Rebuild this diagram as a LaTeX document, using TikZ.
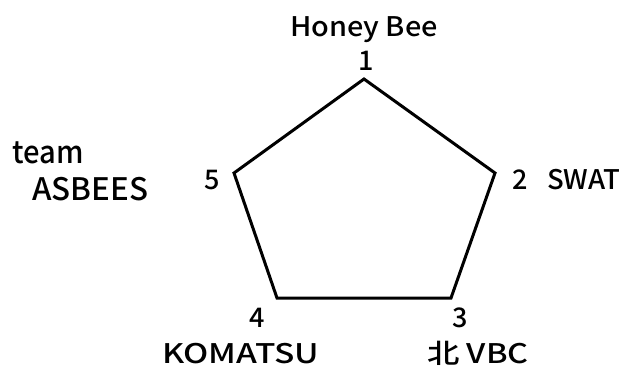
\documentclass[tikz,border=0pt]{standalone}
\usepackage{fontspec}
\usepackage{graphicx}
\setmainfont{Noto Sans CJK JP}[BoldFont={Noto Sans CJK JP Medium}]
\newcommand{\sx}[2]{\scalebox{#1}[1]{#2}}
\begin{document}
\begin{tikzpicture}[x=1pt,y=-1pt,
  lbl/.style={inner sep=0pt,anchor=base west,font=\fontsize{27}{27}\selectfont\bfseries},
  biglbl/.style={lbl,font=\fontsize{31}{31}\selectfont\bfseries},
  edge/.style={line width=3pt,line join=miter}]
\useasboundingbox (0,0) rectangle (621,365);
\coordinate (v1) at (364,79);
\coordinate (v2) at (495,173);
\coordinate (v3) at (451,298);
\coordinate (v4) at (277,298);
\coordinate (v5) at (234,173);
\draw[edge] (v1) -- (v2) -- (v3) -- (v4) -- (v5) -- cycle;
\node[lbl] (hb) at (290,36) {\sx{1.07}{Honey Bee}};
\node[lbl] (n1) at (358,70) {1};
\node[lbl] (n2) at (512,189) {2};
\node[lbl] (swat) at (547,189) {\sx{1.02}{SWAT}};
\node[lbl] (n5) at (204,189) {5};
\node[biglbl] (team) at (12,163) {\sx{0.94}{team}};
\node[biglbl] (asb) at (32,200) {\sx{1.01}{ASBEES}};
\node[lbl] (n4) at (249,327) {4};
\node[lbl] (n3) at (452,327) {3};
\node[lbl] (kom) at (162,363) {\sx{1.24}{KOMATSU}};
\node[lbl] (vbc) at (427,363) {\sx{1.2}{北 VBC}};
\end{tikzpicture}
\end{document}
